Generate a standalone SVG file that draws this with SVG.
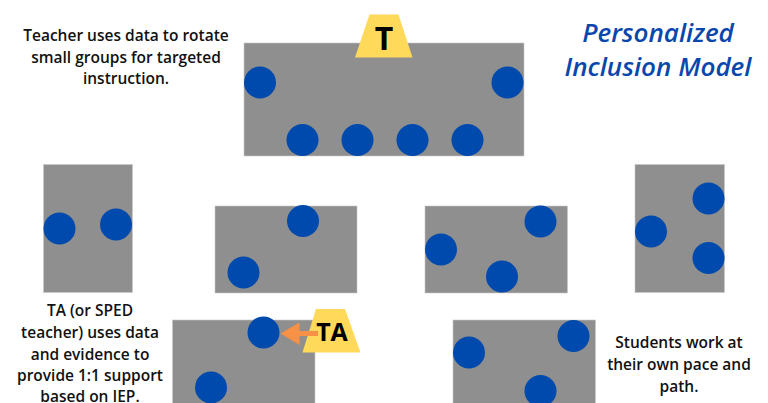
<svg xmlns="http://www.w3.org/2000/svg" width="768" height="403" viewBox="0 0 768 403">
<style>
.tbl{fill:#8f8f8f;stroke:#c8c8c8;stroke-width:0.6}
.st{fill:#004aad}
.pad{fill:#ffd95a}
.lbl{font-family:"Open Sans","Liberation Sans",sans-serif;font-weight:600;font-size:15.5px;fill:#111;text-anchor:middle}
.title{font-family:"Open Sans","Liberation Sans",sans-serif;font-weight:600;font-style:italic;font-size:26px;fill:#0a47ad;text-anchor:middle}
.tag{font-family:"Open Sans","Liberation Sans",sans-serif;font-weight:700;fill:#000;text-anchor:middle}
</style>
<rect width="768" height="403" fill="#fff"/>
<g id="title">
<text class="title" x="658" y="42">Personalized</text>
<text class="title" x="658" y="76">Inclusion Model</text>
</g>
<g id="note-teacher">
<text class="lbl" x="126" y="41">Teacher uses data to rotate</text>
<text class="lbl" x="126" y="62.5">small groups for targeted</text>
<text class="lbl" x="126" y="84">instruction.</text>
</g>
<g id="note-ta">
<text class="lbl" x="90" y="316">TA (or SPED</text>
<text class="lbl" x="90" y="338">teacher) uses data</text>
<text class="lbl" x="90" y="359.5">and evidence to</text>
<text class="lbl" x="90" y="381">provide 1:1 support</text>
<text class="lbl" x="90" y="401.5">based on IEP.</text>
</g>
<g id="note-students">
<text class="lbl" x="679" y="348">Students work at</text>
<text class="lbl" x="679" y="370">their own pace and</text>
<text class="lbl" x="679" y="391.5">path.</text>
</g>
<g id="table-top">
<rect class="tbl" x="244" y="43" width="280" height="113"/>
<circle class="st" cx="260" cy="82.5" r="16"/>
<circle class="st" cx="507.5" cy="82.5" r="16"/>
<circle class="st" cx="302.5" cy="140" r="16"/>
<circle class="st" cx="357.5" cy="140" r="16"/>
<circle class="st" cx="412.5" cy="140" r="16"/>
<circle class="st" cx="467.5" cy="140" r="16"/>
</g>
<g id="teacher-T">
<polygon class="pad" points="369.5,14.5 398.5,14.5 412.5,57.5 355,57.5"/>
<text class="tag" x="384" y="50" font-size="32">T</text>
</g>
<g id="table-1">
<rect class="tbl" x="43.5" y="164.5" width="89" height="128"/>
<circle class="st" cx="59.5" cy="228.5" r="16"/>
<circle class="st" cx="116" cy="224.5" r="16"/>
</g>
<g id="table-2">
<rect class="tbl" x="215" y="206" width="142" height="87"/>
<circle class="st" cx="303" cy="221" r="16"/>
<circle class="st" cx="243.5" cy="272.5" r="16"/>
</g>
<g id="table-3">
<rect class="tbl" x="425" y="206" width="142.5" height="87"/>
<circle class="st" cx="441" cy="249.5" r="16"/>
<circle class="st" cx="540.5" cy="221.5" r="16"/>
<circle class="st" cx="502" cy="276.5" r="16"/>
</g>
<g id="table-4">
<rect class="tbl" x="635" y="164.5" width="89.5" height="128"/>
<circle class="st" cx="708.5" cy="198.5" r="16"/>
<circle class="st" cx="651" cy="231.5" r="16"/>
<circle class="st" cx="708.5" cy="258" r="16"/>
</g>
<g id="table-5">
<rect class="tbl" x="172.5" y="320" width="142.5" height="90"/>
<circle class="st" cx="263.5" cy="332.5" r="16"/>
<circle class="st" cx="211" cy="387.5" r="16"/>
</g>
<g id="table-6">
<rect class="tbl" x="453" y="320" width="142.5" height="90"/>
<circle class="st" cx="469" cy="352.5" r="16"/>
<circle class="st" cx="573.5" cy="336" r="16"/>
<circle class="st" cx="540.5" cy="391" r="16"/>
</g>
<g id="ta-tag">
<polygon class="pad" points="316,309 345,309 360.5,352.5 302.5,352.5"/>
<text class="tag" x="332" y="341" font-size="25">TA</text>
</g>
<g id="connectors">
<path d="M318,333.5 H298" stroke="#f79146" stroke-width="5" fill="none"/>
<polygon points="280.5,333.5 299.5,322.5 299.5,345" fill="#f79146"/>
</g>
</svg>
